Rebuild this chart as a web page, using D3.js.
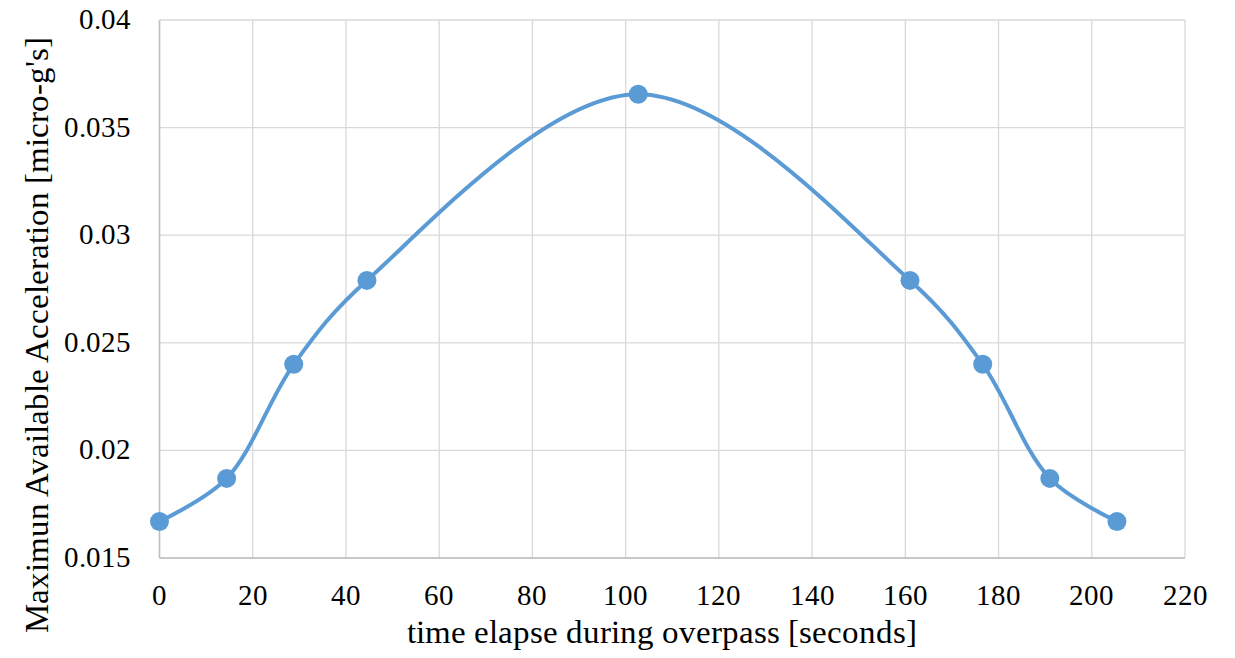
<!DOCTYPE html>
<html><head><meta charset="utf-8">
<script src="https://cdn.jsdelivr.net/npm/d3@7"></script>
<style>
@font-face{font-family:"RefSerif";src:local("Liberation Serif"),local("LiberationSerif"),local("LiberationSerif-Regular"),local("Times New Roman");}
body{margin:0;background:#fff}
</style>
</head><body>
<script>
const timeSec = [0, 14.4, 28.8, 44.5, 102.7, 161, 176.6, 191, 205.4];
const accel = [0.0167, 0.0187, 0.0240, 0.0279, 0.03655, 0.0279, 0.0240, 0.0187, 0.0167];
const xTicks = [0,20,40,60,80,100,120,140,160,180,200,220];
const yTicks = [0.015,0.02,0.025,0.03,0.035,0.04];
const xTitle = "time elapse during overpass [seconds]";
const yTitle = "Maximun Available Acceleration [micro-g's]";

const FF = '"RefSerif", "Liberation Serif", "Times New Roman", serif';

function draw(){
const W=1235,H=658, L=159.5, R=1185, T=20, B=558;
const svg=d3.select("body").append("svg").attr("width",W).attr("height",H).style("display","block");
const x=d3.scaleLinear().domain([0,220]).range([L,R]);
const y=d3.scaleLinear().domain([0.015,0.04]).range([B,T]);

const g=svg.append("g");
g.selectAll(".vg").data(xTicks).join("line").attr("x1",d=>x(d)).attr("x2",d=>x(d)).attr("y1",T).attr("y2",B).attr("stroke","#d9d9d9").attr("stroke-width",1.3);
g.selectAll(".hg").data(yTicks).join("line").attr("y1",d=>y(d)).attr("y2",d=>y(d)).attr("x1",L).attr("x2",R).attr("stroke","#d9d9d9").attr("stroke-width",1.3);
g.append("line").attr("x1",L).attr("x2",L).attr("y1",T).attr("y2",B).attr("stroke","#bfbfbf").attr("stroke-width",1.5);
g.append("line").attr("x1",L).attr("x2",R).attr("y1",B).attr("y2",B).attr("stroke","#bfbfbf").attr("stroke-width",1.5);

svg.selectAll(".xt").data(xTicks).join("text").attr("x",d=>x(d)).attr("y",605).attr("text-anchor","middle").attr("font-size",29).style("font-family",FF).text(d=>d);
svg.selectAll(".yt").data(yTicks).join("text").attr("x",131).attr("y",d=>y(d)+9).attr("text-anchor","end").attr("font-size",28.5).style("font-family",FF).text(d=>d);

svg.append("text").attr("x",662).attr("y",643).attr("text-anchor","middle").attr("font-size",32.8).style("font-family",FF).text(xTitle);
svg.append("text").attr("transform","translate(48,335) rotate(-90)").attr("text-anchor","middle").attr("font-size",32.5).style("font-family",FF).text(yTitle);

const pts=timeSec.map((t,i)=>[t,accel[i]]);
const line=d3.line().x(d=>x(d[0])).y(d=>y(d[1])).curve(d3.curveCatmullRom.alpha(0.5));
svg.append("path").attr("d",line(pts)).attr("fill","none").attr("stroke","#5b9bd5").attr("stroke-width",4);
svg.selectAll(".pt").data(pts).join("circle").attr("cx",d=>x(d[0])).attr("cy",d=>y(d[1])).attr("r",9.5).attr("fill","#5b9bd5");
}
let done=false;
function go(){ if(!done){done=true;draw();} }
if (document.fonts && document.fonts.load) {
  document.fonts.load('30px "RefSerif"').then(go, go);
  setTimeout(go, 1500);
} else go();
</script>
</body></html>
